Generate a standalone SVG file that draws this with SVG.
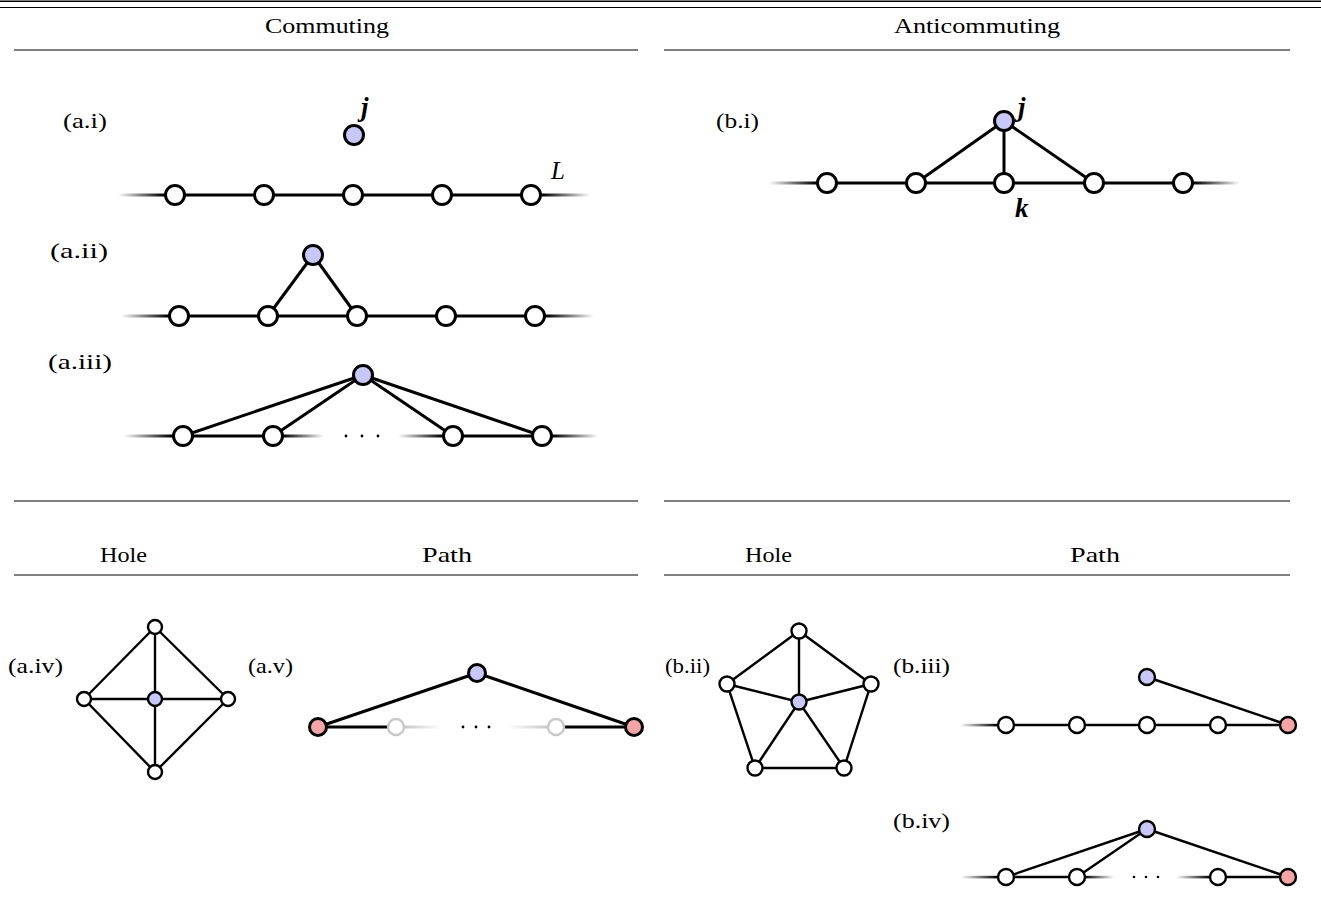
<svg xmlns="http://www.w3.org/2000/svg" width="1321" height="897" viewBox="0 0 1321 897">
<style>
text{font-family:"Liberation Serif","DejaVu Serif",serif;fill:#000}
.lbl{font-size:21px}
.mj{font-size:27px;font-weight:bold;font-style:italic}
.mi{font-size:25px;font-style:italic}
.rule{stroke:#000;fill:none}
.e{stroke:#000;stroke-width:3;fill:none}
.es{stroke:#000;stroke-width:2.4;fill:none}
.n{fill:#fff;stroke:#000;stroke-width:3}
.ns{fill:#fff;stroke:#000;stroke-width:2.4}
.b{fill:#c8c8f8}
.r{fill:#f5a5a5}
.g{fill:#fff;stroke:#c8c8c8;stroke-width:2.4}
</style>
<defs>
<linearGradient id="fadeIn" x1="0" y1="0" x2="1" y2="0"><stop offset="0" stop-color="#000" stop-opacity="0"/><stop offset="0.8" stop-color="#000" stop-opacity="1"/></linearGradient>
<linearGradient id="fadeOut" x1="0" y1="0" x2="1" y2="0"><stop offset="0.2" stop-color="#000" stop-opacity="1"/><stop offset="1" stop-color="#000" stop-opacity="0"/></linearGradient>
<linearGradient id="grayOut" x1="0" y1="0" x2="1" y2="0"><stop offset="0.2" stop-color="#c8c8c8" stop-opacity="1"/><stop offset="1" stop-color="#c8c8c8" stop-opacity="0"/></linearGradient>
<linearGradient id="grayIn" x1="0" y1="0" x2="1" y2="0"><stop offset="0" stop-color="#c8c8c8" stop-opacity="0"/><stop offset="0.8" stop-color="#c8c8c8" stop-opacity="1"/></linearGradient>
</defs>

<g id="rules">
<line class="rule" x1="0" y1="1.2" x2="1321" y2="1.2" stroke-width="1.4"/>
<line class="rule" x1="0" y1="7.5" x2="1321" y2="7.5" stroke-width="1"/>
<line class="rule" x1="14" y1="50" x2="638" y2="50" stroke-width="1"/>
<line class="rule" x1="664" y1="50" x2="1290" y2="50" stroke-width="1"/>
<line class="rule" x1="14" y1="501" x2="638" y2="501" stroke-width="1"/>
<line class="rule" x1="664" y1="501" x2="1290" y2="501" stroke-width="1"/>
<line class="rule" x1="14" y1="575" x2="638" y2="575" stroke-width="1"/>
<line class="rule" x1="664" y1="575" x2="1290" y2="575" stroke-width="1"/>
</g>

<g id="headers" class="lbl">
<text x="327" y="33" text-anchor="middle" textLength="124" lengthAdjust="spacingAndGlyphs">Commuting</text>
<text x="977" y="33" text-anchor="middle" textLength="166" lengthAdjust="spacingAndGlyphs">Anticommuting</text>
<text x="123.5" y="562" text-anchor="middle" textLength="47" lengthAdjust="spacingAndGlyphs">Hole</text>
<text x="447" y="562" text-anchor="middle" textLength="50" lengthAdjust="spacingAndGlyphs">Path</text>
<text x="768.5" y="562" text-anchor="middle" textLength="47" lengthAdjust="spacingAndGlyphs">Hole</text>
<text x="1095" y="562" text-anchor="middle" textLength="50" lengthAdjust="spacingAndGlyphs">Path</text>
</g>

<g id="labels" class="lbl">
<text x="63" y="128" textLength="44" lengthAdjust="spacingAndGlyphs">(a.i)</text>
<text x="50" y="258" textLength="58" lengthAdjust="spacingAndGlyphs">(a.ii)</text>
<text x="48" y="369" textLength="64" lengthAdjust="spacingAndGlyphs">(a.iii)</text>
<text x="716" y="128" textLength="43" lengthAdjust="spacingAndGlyphs">(b.i)</text>
<text x="8" y="673" textLength="55" lengthAdjust="spacingAndGlyphs">(a.iv)</text>
<text x="248" y="673" textLength="45" lengthAdjust="spacingAndGlyphs">(a.v)</text>
<text x="665" y="673" textLength="45" lengthAdjust="spacingAndGlyphs">(b.ii)</text>
<text x="893" y="673" textLength="57" lengthAdjust="spacingAndGlyphs">(b.iii)</text>
<text x="893" y="828" textLength="57" lengthAdjust="spacingAndGlyphs">(b.iv)</text>
</g>

<g id="connectors">
<rect x="118" y="193.5" width="57" height="3" fill="url(#fadeIn)"/>
<line class="e" x1="175" y1="195" x2="531" y2="195"/>
<rect x="531" y="193.5" width="59" height="3" fill="url(#fadeOut)"/>
<rect x="121" y="314.5" width="58" height="3" fill="url(#fadeIn)"/>
<line class="e" x1="179" y1="316" x2="535" y2="316"/>
<rect x="535" y="314.5" width="59" height="3" fill="url(#fadeOut)"/>
<line class="e" x1="268" y1="316" x2="313" y2="255"/>
<line class="e" x1="357" y1="316" x2="313" y2="255"/>
<rect x="124" y="434.5" width="59" height="3" fill="url(#fadeIn)"/>
<line class="e" x1="183" y1="436" x2="273" y2="436"/>
<rect x="273" y="434.5" width="51" height="3" fill="url(#fadeOut)"/>
<rect x="398" y="434.5" width="55" height="3" fill="url(#fadeIn)"/>
<line class="e" x1="453" y1="436" x2="542" y2="436"/>
<rect x="542" y="434.5" width="56" height="3" fill="url(#fadeOut)"/>
<line class="e" x1="363" y1="375" x2="183" y2="436"/>
<line class="e" x1="363" y1="375" x2="273" y2="436"/>
<line class="e" x1="363" y1="375" x2="453" y2="436"/>
<line class="e" x1="363" y1="375" x2="542" y2="436"/>
<rect x="769" y="181.5" width="58" height="3" fill="url(#fadeIn)"/>
<line class="e" x1="827" y1="183" x2="1183" y2="183"/>
<rect x="1183" y="181.5" width="57" height="3" fill="url(#fadeOut)"/>
<line class="e" x1="1004" y1="121" x2="916" y2="183"/>
<line class="e" x1="1004" y1="121" x2="1004" y2="183"/>
<line class="e" x1="1004" y1="121" x2="1094" y2="183"/>
<line class="es" x1="155" y1="627" x2="84" y2="699"/>
<line class="es" x1="155" y1="627" x2="228" y2="699"/>
<line class="es" x1="155" y1="772" x2="84" y2="699"/>
<line class="es" x1="155" y1="772" x2="228" y2="699"/>
<line class="es" x1="155" y1="627" x2="155" y2="772"/>
<line class="es" x1="84" y1="699" x2="228" y2="699"/>
<line class="e" x1="318" y1="727" x2="396" y2="727"/>
<rect x="396" y="725.5" width="46" height="3" fill="url(#grayOut)"/>
<rect x="508" y="725.5" width="48" height="3" fill="url(#grayIn)"/>
<line class="e" x1="556" y1="727" x2="634" y2="727"/>
<line class="e" x1="477" y1="673" x2="318" y2="727"/>
<line class="e" x1="477" y1="673" x2="634" y2="727"/>
<polyline class="es" points="799,631 727,684 755,768 844,768 871,684 799,631"/>
<line class="es" x1="799" y1="702" x2="799" y2="631"/>
<line class="es" x1="799" y1="702" x2="727" y2="684"/>
<line class="es" x1="799" y1="702" x2="871" y2="684"/>
<line class="es" x1="799" y1="702" x2="755" y2="768"/>
<line class="es" x1="799" y1="702" x2="844" y2="768"/>
<rect x="960" y="723.8" width="46" height="2.6" fill="url(#fadeIn)"/>
<line class="es" x1="1006" y1="725" x2="1288" y2="725"/>
<line class="es" x1="1147" y1="677" x2="1288" y2="725"/>
<rect x="961" y="875.8" width="45" height="2.6" fill="url(#fadeIn)"/>
<line class="es" x1="1006" y1="877" x2="1077" y2="877"/>
<rect x="1077" y="875.8" width="37" height="2.6" fill="url(#fadeOut)"/>
<rect x="1176" y="875.8" width="42" height="2.6" fill="url(#fadeIn)"/>
<line class="es" x1="1218" y1="877" x2="1288" y2="877"/>
<line class="es" x1="1147" y1="829" x2="1006" y2="877"/>
<line class="es" x1="1147" y1="829" x2="1077" y2="877"/>
<line class="es" x1="1147" y1="829" x2="1288" y2="877"/>
</g>

<g id="dots">
<circle cx="346" cy="436" r="1.4"/><circle cx="362" cy="436" r="1.4"/><circle cx="378" cy="436" r="1.4"/>
<circle cx="463" cy="727" r="1.4"/><circle cx="476" cy="727" r="1.4"/><circle cx="489" cy="727" r="1.4"/>
<circle cx="1134" cy="877" r="1.3"/><circle cx="1146" cy="877" r="1.3"/><circle cx="1158" cy="877" r="1.3"/>
</g>

<g id="node-ai">
<circle class="n" cx="175" cy="195" r="9.5"/><circle class="n" cx="264" cy="195" r="9.5"/><circle class="n" cx="353" cy="195" r="9.5"/><circle class="n" cx="442" cy="195" r="9.5"/><circle class="n" cx="531" cy="195" r="9.5"/>
<circle class="n b" cx="354" cy="135" r="9.5"/>
<text class="mj" x="361" y="116">j</text>
<text class="mi" x="551" y="179">L</text>
</g>
<g id="node-aii">
<circle class="n" cx="179" cy="316" r="9.5"/><circle class="n" cx="268" cy="316" r="9.5"/><circle class="n" cx="357" cy="316" r="9.5"/><circle class="n" cx="446" cy="316" r="9.5"/><circle class="n" cx="535" cy="316" r="9.5"/>
<circle class="n b" cx="313" cy="255" r="9.5"/>
</g>
<g id="node-aiii">
<circle class="n" cx="183" cy="436" r="9.5"/><circle class="n" cx="273" cy="436" r="9.5"/><circle class="n" cx="453" cy="436" r="9.5"/><circle class="n" cx="542" cy="436" r="9.5"/>
<circle class="n b" cx="363" cy="375" r="9.5"/>
</g>
<g id="node-bi">
<circle class="n" cx="827" cy="183" r="9.5"/><circle class="n" cx="916" cy="183" r="9.5"/><circle class="n" cx="1004" cy="183" r="9.5"/><circle class="n" cx="1094" cy="183" r="9.5"/><circle class="n" cx="1183" cy="183" r="9.5"/>
<circle class="n b" cx="1004" cy="121" r="9.5"/>
<text class="mj" x="1018" y="116">j</text>
<text class="mj" x="1015" y="217">k</text>
</g>
<g id="node-aiv">
<circle class="ns" cx="155" cy="627" r="7"/><circle class="ns" cx="84" cy="699" r="7"/><circle class="ns b" cx="155" cy="699" r="7"/><circle class="ns" cx="228" cy="699" r="7"/><circle class="ns" cx="155" cy="772" r="7"/>
</g>
<g id="node-av">
<circle class="n r" cx="318" cy="727" r="8.5"/>
<circle class="g" cx="396" cy="727" r="8"/>
<circle class="g" cx="556" cy="727" r="8"/>
<circle class="n r" cx="634" cy="727" r="8.5"/>
<circle class="n b" cx="477" cy="673" r="8.5"/>
</g>
<g id="node-bii">
<circle class="ns" cx="799" cy="631" r="7.5"/><circle class="ns" cx="727" cy="684" r="7.5"/><circle class="ns" cx="871" cy="684" r="7.5"/><circle class="ns" cx="755" cy="768" r="7.5"/><circle class="ns" cx="844" cy="768" r="7.5"/>
<circle class="ns b" cx="799" cy="702" r="7.5"/>
</g>
<g id="node-biii">
<circle class="ns" cx="1006" cy="725" r="8"/><circle class="ns" cx="1077" cy="725" r="8"/><circle class="ns" cx="1147" cy="725" r="8"/><circle class="ns" cx="1218" cy="725" r="8"/>
<circle class="ns r" cx="1288" cy="725" r="8"/>
<circle class="ns b" cx="1147" cy="677" r="8"/>
</g>
<g id="node-biv">
<circle class="ns" cx="1006" cy="877" r="8"/><circle class="ns" cx="1077" cy="877" r="8"/><circle class="ns" cx="1218" cy="877" r="8"/>
<circle class="ns r" cx="1288" cy="877" r="8"/>
<circle class="ns b" cx="1147" cy="829" r="8"/>
</g>
</svg>
